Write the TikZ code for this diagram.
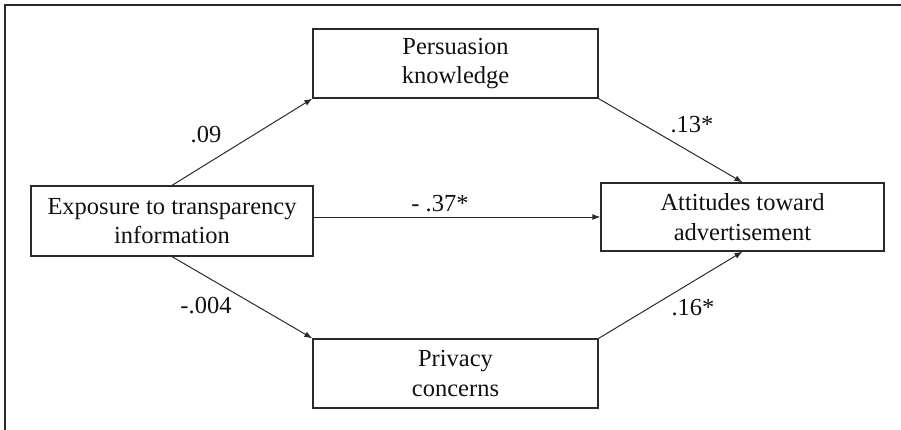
\documentclass[tikz,border=0pt]{standalone}
\usepackage{fontspec}
\setmainfont{Liberation Serif}
\usetikzlibrary{arrows.meta}
\definecolor{ink}{HTML}{111111}
\definecolor{lineink}{HTML}{2A2A2A}
\tikzset{
  varbox/.style={draw=lineink, line width=1.3pt, rectangle, inner sep=0pt,
    align=center, text=ink, font=\fontsize{24.5}{29.5}\selectfont},
  path/.style={draw=lineink, line width=1pt, -{Latex[length=8pt,width=6pt]}},
  coef/.style={text=ink, font=\fontsize{24.5}{29.5}\selectfont, inner sep=0pt}
}
\begin{document}
\begin{tikzpicture}[x=1pt,y=-1pt]
\useasboundingbox (0,0) rectangle (901,429);
\draw[draw=lineink, line width=1.6pt] (5,440) -- (5,5) -- (910,5);
\node[varbox, minimum width=285pt, minimum height=69pt] (pk) at (455.5,63.5) {Persuasion\\knowledge};
\node[varbox, minimum width=282pt, minimum height=70pt] (exp) at (172,221) {Exposure to transparency\\information};
\node[varbox, minimum width=283pt, minimum height=68pt] (att) at (742.5,217) {Attitudes toward\\advertisement};
\node[varbox, minimum width=285pt, minimum height=69pt] (pc) at (455.5,373.5) {Privacy\\concerns};
\draw[path] (exp.north) -- (pk.south west);
\draw[path] (pk.south east) -- (att.north);
\draw[path] (exp.east |- att.west) -- (att.west);
\draw[path] (exp.south) -- (pc.north west);
\draw[path] (pc.north east) -- (att.south);
\node[coef] (c1) at (206,135) {.09};
\node[coef] (c2) at (692,125) {.13*};
\node[coef] (c3) at (440,204) {- .37*};
\node[coef] (c4) at (206,306) {-.004};
\node[coef] (c5) at (693,308) {.16*};
\end{tikzpicture}
\end{document}
